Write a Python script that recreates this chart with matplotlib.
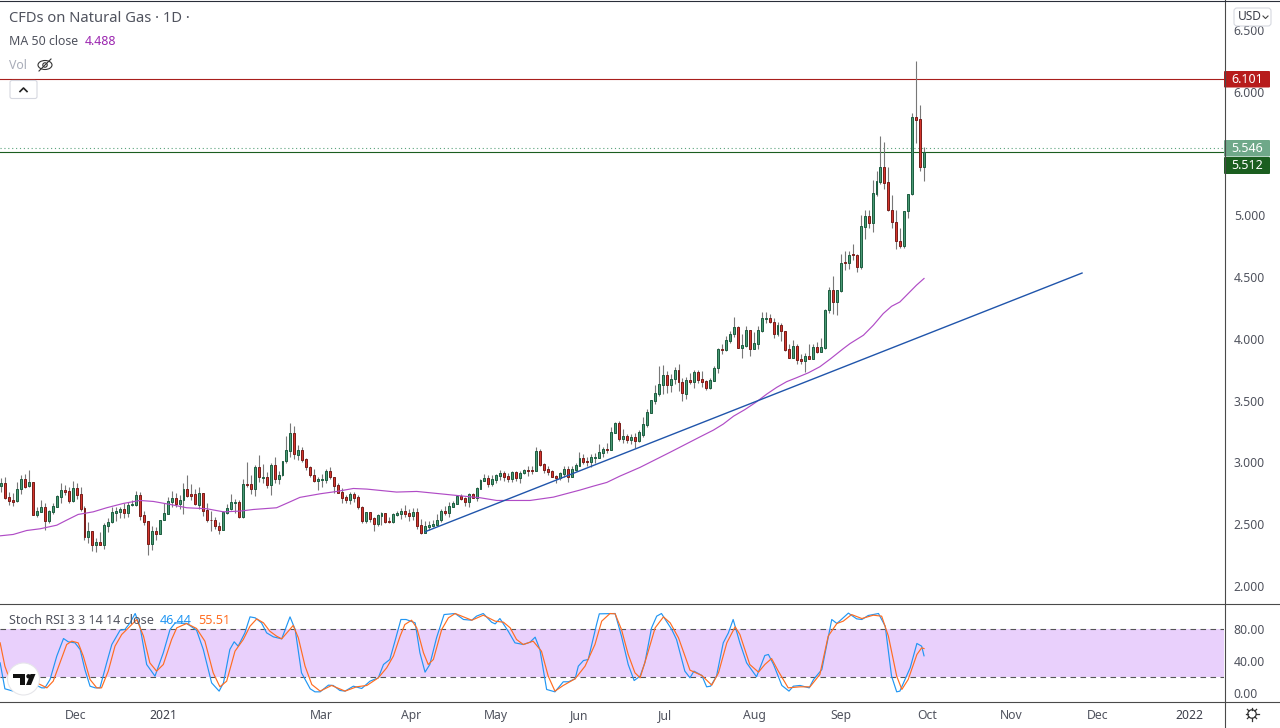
import numpy as np
import matplotlib
matplotlib.use("Agg")
import matplotlib.pyplot as plt
from matplotlib.patches import FancyBboxPatch, Circle, Polygon, Ellipse

plt.rcParams['font.family'] = ['Noto Sans', 'DejaVu Sans']

opens = [2.811,2.830,2.717,2.695,2.684,2.781,2.862,2.806,2.838,2.576,
 2.600,2.636,2.528,2.600,2.641,2.722,2.776,2.765,2.690,2.789,
 2.741,2.628,2.398,2.441,2.333,2.352,2.333,2.487,2.514,2.592,
 2.600,2.619,2.592,2.652,2.657,2.733,2.571,2.522,2.341,2.441,
 2.422,2.538,2.584,2.681,2.709,2.665,2.692,2.781,2.741,2.744,
 2.657,2.749,2.611,2.538,2.530,2.487,2.457,2.592,2.625,2.673,
 2.676,2.555,2.822,2.822,2.781,2.960,2.876,2.879,2.814,2.976,
 2.862,2.895,3.008,3.095,3.235,3.062,3.097,3.024,2.960,2.895,
 2.852,
 2.860,2.860,2.927,2.879,2.814,2.757,2.717,2.698,2.741,2.717,
 2.641,2.528,2.595,2.547,2.503,2.568,2.587,2.522,2.520,2.576,
 2.584,2.603,2.587,2.565,2.595,2.490,2.430,2.479,2.487,2.495,
 2.536,2.603,2.590,2.641,2.665,2.725,2.709,2.681,2.741,2.714,
 2.787,2.852,2.870,2.827,2.860,2.892,2.911,2.887,2.868,2.919,
 2.876,2.911,2.938,2.935,2.933,3.089,2.984,2.943,2.927,2.887,
 2.876,2.908,2.943,2.884,2.941,2.973,3.032,3.008,3.005,3.038,
 3.038,3.078,3.105,3.103,3.240,3.316,3.189,3.211,3.184,3.203,
 3.176,
 3.220,3.304,3.401,3.499,3.553,3.628,3.704,3.628,3.671,3.747,
 3.647,3.555,3.663,3.652,3.728,3.674,3.655,3.604,3.661,3.760,
 3.914,3.912,3.985,4.036,4.093,3.928,3.944,4.068,3.920,3.960,
 4.066,4.163,4.166,4.139,4.041,4.109,4.060,3.914,3.847,3.939,
 3.833,3.823,3.858,3.839,3.931,3.896,3.925,4.230,
 4.398,4.298,4.388,4.620,4.614,4.685,4.682,4.582,4.906,4.992,
 4.938,5.173,5.271,5.387,5.265,5.046,4.949,4.795,4.752,5.036,
 5.168,5.792,5.775,5.392]

closes = [2.833,2.714,2.690,2.681,2.781,2.862,2.803,2.838,2.576,2.603,
 2.636,2.528,2.603,2.644,2.725,2.773,2.762,2.690,2.789,2.738,
 2.625,2.398,2.441,2.333,2.355,2.333,2.490,2.514,2.595,2.603,
 2.619,2.592,2.652,2.663,2.733,2.568,2.519,2.341,2.441,2.422,
 2.538,2.587,2.684,2.709,2.665,2.692,2.781,2.730,2.730,2.660,
 2.749,2.609,2.538,2.530,2.487,2.455,2.595,2.628,2.676,2.679,
 2.555,2.822,2.817,2.781,2.960,2.879,2.881,2.814,2.976,2.862,
 2.895,3.008,3.097,3.235,3.065,3.097,3.022,2.960,2.895,2.852,
 2.865,
 2.862,2.927,2.879,2.811,2.754,2.714,2.698,2.741,2.714,2.641,
 2.528,2.595,2.544,2.503,2.571,2.587,2.520,2.517,2.582,2.590,
 2.603,2.584,2.568,2.598,2.487,2.430,2.484,2.490,2.498,2.538,
 2.603,2.592,2.644,2.671,2.727,2.706,2.681,2.741,2.714,2.790,
 2.854,2.870,2.827,2.862,2.895,2.911,2.884,2.868,2.919,2.873,
 2.911,2.935,2.933,2.930,3.089,2.981,2.941,2.925,2.881,2.876,
 2.911,2.943,2.884,2.943,2.976,3.032,3.005,3.003,3.041,3.043,
 3.081,3.105,3.100,3.243,3.319,3.192,3.211,3.184,3.205,3.176,
 3.243,
 3.307,3.404,3.501,3.558,3.631,3.704,3.628,3.671,3.747,3.647,
 3.558,3.663,3.652,3.728,3.666,3.652,3.604,3.663,3.760,3.914,
 3.909,3.987,4.036,4.093,3.928,3.947,4.068,3.920,3.963,4.068,
 4.166,4.168,4.139,4.041,4.109,4.060,3.912,3.847,3.939,3.831,
 3.823,3.858,3.839,3.931,3.896,3.931,4.230,4.398,
 4.298,4.393,4.617,4.614,4.682,4.679,4.582,4.909,4.992,4.938,
 5.176,5.273,5.387,5.262,5.041,4.946,4.793,4.752,5.038,5.171,
 5.792,5.773,5.392,5.512]

highs = [2.870,2.881,2.760,2.754,2.841,2.897,2.906,2.938,2.841,2.636,
 2.695,2.668,2.614,2.668,2.736,2.833,2.814,2.798,2.849,2.833,
 2.800,2.646,2.517,2.441,2.387,2.436,2.506,2.552,2.636,2.636,
 2.636,2.668,2.676,2.695,2.768,2.760,2.603,2.522,2.482,2.474,
 2.538,2.668,2.722,2.768,2.749,2.733,2.830,2.897,2.825,2.784,
 2.798,2.749,2.668,2.609,2.560,2.519,2.603,2.660,2.744,2.703,
 2.695,2.862,3.003,2.897,2.979,3.059,2.987,2.924,2.992,3.041,
 2.933,3.008,3.213,3.316,3.294,3.140,3.122,3.032,2.970,2.943,
 2.879,
 2.906,2.943,2.962,2.879,2.830,2.790,2.738,2.757,2.763,2.736,
 2.646,2.595,2.595,2.555,2.579,2.601,2.592,2.555,2.587,2.606,
 2.628,2.652,2.619,2.628,2.628,2.541,2.525,2.525,2.533,2.579,
 2.622,2.646,2.679,2.684,2.736,2.741,2.722,2.754,2.754,2.798,
 2.862,2.906,2.895,2.898,2.906,2.938,2.933,2.911,2.930,2.927,
 2.930,2.949,2.970,2.970,3.122,3.105,2.997,2.970,2.938,2.895,
 2.925,2.970,2.973,2.970,2.992,3.081,3.065,3.041,3.065,3.073,
 3.149,3.122,3.154,3.284,3.330,3.335,3.270,3.230,3.227,3.235,
 3.262,
 3.369,3.428,3.501,3.623,3.779,3.787,3.739,3.715,3.769,3.796,
 3.680,3.693,3.720,3.747,3.747,3.739,3.666,3.680,3.779,3.922,
 3.958,4.022,4.063,4.176,4.103,4.036,4.103,4.071,4.055,4.103,
 4.217,4.217,4.198,4.171,4.139,4.130,4.066,3.958,3.990,3.955,
 3.874,3.887,3.955,3.958,3.974,4.009,4.238,4.420,
 4.506,4.393,4.690,4.709,4.709,4.766,4.690,5.000,5.046,5.041,
 5.284,5.360,5.640,5.592,5.392,5.163,5.041,4.898,5.038,5.171,
 5.824,6.248,5.891,5.549]

lows = [2.762,2.703,2.657,2.649,2.681,2.746,2.795,2.803,2.573,2.560,
 2.600,2.457,2.511,2.582,2.636,2.673,2.736,2.673,2.681,2.700,
 2.609,2.371,2.349,2.285,2.276,2.330,2.301,2.439,2.511,2.525,
 2.552,2.552,2.560,2.646,2.646,2.533,2.493,2.250,2.290,2.371,
 2.420,2.533,2.582,2.636,2.636,2.619,2.582,2.717,2.695,2.657,
 2.619,2.568,2.519,2.447,2.460,2.420,2.455,2.582,2.614,2.587,
 2.547,2.552,2.803,2.744,2.730,2.843,2.830,2.795,2.738,2.835,
 2.825,2.892,2.997,3.046,3.024,3.019,3.005,2.941,2.879,2.841,
 2.776,
 2.798,2.830,2.862,2.754,2.754,2.673,2.668,2.663,2.681,2.627,
 2.509,2.511,2.517,2.447,2.484,2.490,2.506,2.506,2.511,2.565,
 2.541,2.555,2.528,2.533,2.460,2.420,2.430,2.452,2.474,2.484,
 2.520,2.574,2.560,2.636,2.663,2.695,2.646,2.641,2.714,2.690,
 2.781,2.849,2.803,2.811,2.830,2.857,2.849,2.843,2.843,2.849,
 2.835,2.906,2.892,2.906,2.933,2.973,2.916,2.897,2.879,2.830,
 2.857,2.879,2.843,2.879,2.933,2.970,2.984,2.970,2.960,2.992,
 3.032,3.046,3.078,3.100,3.235,3.176,3.154,3.154,3.149,3.114,
 3.168,
 3.207,3.288,3.396,3.472,3.539,3.553,3.563,3.571,3.634,3.577,
 3.499,3.512,3.634,3.604,3.639,3.612,3.585,3.593,3.658,3.725,
 3.877,3.904,3.968,4.015,3.922,3.844,3.936,3.860,3.914,3.920,
 4.057,4.125,4.130,4.009,4.022,3.985,3.904,3.844,3.842,3.796,
 3.796,3.734,3.833,3.836,3.887,3.896,3.920,4.206,
 4.204,4.190,4.382,4.555,4.563,4.641,4.541,4.563,4.806,4.898,
 4.865,5.154,5.252,5.211,5.033,4.898,4.725,4.733,4.736,4.979,
 5.163,5.586,5.360,5.279]

ma_idx = [-0.3,3.0,6.4,9.8,14.0,16.5,19.4,23.2,26.6,30.8,35.0,38.4,42.6,46.8,51.9,56.1,60.3,63.6,69.5,72.9,75.4,80.5,
 84.7,88.9,92.3,99.8,104.9,109.9,115.8,120.9,125.1,133.5,139.4,146.1,149.5,152.9,156.2,158.8,161.3,169.0,176.4,179.8,
 182.3,184.9,187.8,190.7,193.3,195.8,198.3,200.8,203.8,206.7,209.3,212.6,214.3,217.7,220.2,222.7,224.8,226.9,229,231.1,233.0]
ma_val = [2.406,2.417,2.449,2.463,2.492,2.533,2.579,2.600,2.633,2.668,2.692,2.684,2.660,2.633,2.625,2.600,2.606,2.619,2.633,2.681,2.717,2.746,
 2.765,2.789,2.784,2.760,2.765,2.749,2.730,2.714,2.692,2.692,2.719,2.776,2.808,2.838,2.889,2.925,2.960,3.084,3.206,3.261,
 3.310,3.374,3.428,3.490,3.553,3.607,3.653,3.685,3.725,3.774,3.836,3.920,3.961,4.029,4.110,4.204,4.263,4.298,4.366,4.434,4.488]

trend_idx = [107, 272.9]
trend_val = [2.439, 4.532]

k_idx = [-0.3,0.9,3.0,4.7,8.9,10.2,11,12.3,14,15.7,16.9,18.6,19.9,21.1,22.4,23.7,24.9,26.6,27.9,30,31.2,32.5,33.8,35,36.7,38.8,40.9,42.6,43.9,46.8,49.3,51,53.1,55,56.1,57.7,58.8,59.8,61.5,62.8,64.1,65.7,67,68.7,70.8,72.9,74.2,75.8,78,79.2,80.5,
 82.6,83.8,85.5,86.8,88.9,91,93.1,95.2,96.5,98.1,99.4,100.9,102.2,104.5,105.7,107,108.2,109.9,111.8,114.6,116.7,118.8,120,121.7,123.8,124.7,125.9,128,129.7,131.8,133.5,134.8,136,137.7,139.8,141.9,143.2,144.9,145.7,147,148.2,150.3,151,155,156.6,158.3,159.8,161.3,
 162.5,164.2,165.5,166.7,169.3,170.5,172.6,173.9,174.9,176.9,178.1,179.1,180.6,182.3,183.6,184.8,186.5,188.2,190.7,192.8,193.7,195,197.1,198.9,200,201.7,204,205.1,207.2,209.7,211,212.6,213.9,216,217.3,218.9,221.5,223.2,224.8,226.1,226.9,229.5,231.2,232.4,233]
k_val = [37.6,5,2.1,4.2,9.2,6.2,6.2,16.7,46,68.1,64,62.7,54.3,29.2,8.3,6.2,6.2,37.6,60.6,78.6,79.4,87.8,99.5,83.6,35.5,20.9,50.2,79.4,87.8,87,78.6,54.3,12.5,2.1,12.5,54.3,64,58.5,75.2,95.3,94.1,87.8,75.2,70.2,67.7,95.3,79.4,25.1,5,1.2,1.2,
 9.6,9.2,2.9,2.1,8.3,5.4,14.6,18.8,35.5,41.8,64.8,92,92,87.8,50.2,25.9,35.5,69,98.2,99.5,92,91.1,96.2,99.5,88.6,86.5,93.2,77.3,62.7,60.6,63.5,69.8,54.3,4.2,1.2,13.8,13.8,17.6,33.4,40.5,41.8,85.7,99.1,99.5,71.1,35.5,15.4,20.9,
 37.6,81.5,96.2,99.5,79.4,66.9,27.2,18.8,27.2,21.7,7.5,8.3,20.9,62.7,75.2,92,62.7,37.6,20.1,46.8,48.1,35.5,9.2,2.1,8.3,9.2,6.2,16.7,29.2,92,87,94.1,100,92.8,92,97,99.5,83.6,20.9,1.2,2.1,31.3,61.9,58.5,46.44]

d_idx = [-0.3,0.9,3,8.1,9.8,11.5,13.1,14.8,16.5,17.8,19.4,20.7,22.4,24.1,25.3,27,28.7,30.4,32.1,34.2,35.9,37.5,39.2,40.9,43,44.3,46.8,49.3,51.4,53.5,55.2,56.9,59,61.1,62.8,64.5,66.2,67.8,69.5,70.8,73.7,75,76.7,78.4,80.5,
 83.4,86.8,89.7,92.3,95.2,97.3,99,100.7,101.9,103.6,104.9,106.6,107.8,109.1,111.2,112.9,114.6,116.7,118.8,121.7,124.7,126.8,128.5,130.1,131.8,134.3,136.4,138.1,139.8,141.9,144.9,147.4,149.9,151.6,153.7,155,156.6,158.3,160,161.3,
 163,165.1,167.2,168.9,171,173.9,176.9,179.4,181.1,183.2,185.3,186.5,189,191.2,192.8,194.5,196.2,198.7,201.7,204.2,206.7,208.8,211,212.6,214.7,217.3,220.2,222.3,224,226.1,227.4,229,231.2,232.4,233]
d_val = [62.7,33.4,4.2,14.6,10.4,6.2,14.6,37.6,60.6,64.8,62.7,46,16.7,6.2,6.2,27.2,58.5,73.2,81.5,92,71.1,37.6,27.2,35.5,66.9,81.5,87,80.7,64.8,25.1,7.5,14.6,52.2,66.9,83.6,92.8,87.8,77.3,71.1,67.7,84.5,69,33.4,10.4,2.1,
 9.2,2.1,7.5,9.2,18.8,31.3,46,71.1,85.7,91.1,81.5,50.2,35.5,41.8,79.4,94.1,99.5,95.3,91.1,97.4,89.9,88.6,81.5,66.9,60.6,64.8,52.2,20.9,2.1,9.2,17.6,33.4,60.6,89.9,99.5,99.1,79.4,48.1,25.1,18.8,
 46,81.5,95.3,87.8,69,28.4,21.7,9.6,25.1,62.7,82.8,73.2,35.5,25.9,35.5,43,27.2,6.2,7.5,7.5,23,71.1,87,89.9,98.2,93.2,97.4,96.2,71.1,20.9,4.2,16.7,48.1,56.4,55.51]

price_ticks = [2.0,2.5,3.0,3.5,4.0,4.5,5.0,6.0,6.5]
stoch_ticks = [0,40,80]
time_ticks = [18.9,40.8,80.7,103.5,124.9,145.9,167.6,190.1,212.0,233.8,255.1,276.9,299.9]
time_labels = ['Dec','2021','Mar','Apr','May','Jun','Jul','Aug','Sep','Oct','Nov','Dec','2022']
level_red = 6.101
level_green = 5.512
level_dotted = 5.546

W, H = 1280, 728
GREY = '#50535e'
fig = plt.figure(figsize=(W/100, H/100), dpi=100, facecolor='white')

def rect(left, top, right, bottom):
    return [left/W, 1-bottom/H, (right-left)/W, (bottom-top)/H]

ax = fig.add_axes(rect(0, 0, 1224, 603))
ax2 = fig.add_axes(rect(0, 603, 1224, 701))
xlim = (-0.336, 308.75)
x = np.arange(len(closes))
o, h, l, c = map(np.array, (opens, highs, lows, closes))
up = c >= o

ax.vlines(x, l, h, color='#787878', lw=0.8, zorder=2)
ax.bar(x[up], (c-o)[up], bottom=o[up], width=0.5, color='#4a9a75', edgecolor='#1f5f42', linewidth=0.72, zorder=3)
ax.bar(x[~up], (o-c)[~up], bottom=c[~up], width=0.5, color='#d5352c', edgecolor='#7a1f1c', linewidth=0.72, zorder=3)
ax.plot(ma_idx, ma_val, color='#b04cc6', lw=0.85, zorder=4)
ax.plot(trend_idx, trend_val, color='#2055ab', lw=1.0, zorder=4)
ax.axhline(level_red, color='#a81f1c', lw=0.8, zorder=1)
ax.axhline(level_green, color='#1b5e20', lw=0.8, zorder=1)
ax.axhline(level_dotted, color='#5aa37c', lw=0.8, ls=(0, (1, 2.5)), zorder=1)
ax.set_xlim(*xlim)
ax.set_ylim(2-17/123.6, 2+586/123.6)
ax.yaxis.tick_right()
ax.set_yticks(price_ticks)
ax.set_yticklabels([f'{v:.3f}' for v in price_ticks])
ax.set_xticks([])
ax.tick_params(axis='y', length=0, pad=7, labelsize=8.8, labelcolor=GREY)

ax2.axhspan(20, 80, color='#e9d0fc', lw=0, zorder=0)
for lev in (20, 80):
    ax2.axhline(lev, color='#555555', lw=0.8, ls=(0, (5, 4)), zorder=1)
ax2.plot(k_idx, k_val, color='#2196f3', lw=0.85, zorder=3)
ax2.plot(d_idx, d_val, color='#ff6d21', lw=0.85, zorder=4)
ax2.set_xlim(*xlim)
ax2.set_ylim(-10.3, 112.7)
ax2.yaxis.tick_right()
ax2.set_yticks(stoch_ticks)
ax2.set_yticklabels([f'{v:.2f}' for v in stoch_ticks])
ax2.set_xticks(time_ticks)
ax2.set_xticklabels(time_labels)
ax2.tick_params(axis='y', length=0, pad=7, labelsize=8.8, labelcolor=GREY)
ax2.tick_params(axis='x', length=0, pad=6, labelsize=8.8, labelcolor=GREY)
for t in ax2.get_xticklabels():
    if t.get_text() in ('2021', '2022'):
        t.set_fontweight('bold')
        t.set_color('#3c3f4a')

for a in (ax, ax2):
    for s in a.spines.values():
        s.set_visible(False)

ov = fig.add_axes([0, 0, 1, 1], zorder=10)
ov.set_xlim(0, W)
ov.set_ylim(H, 0)
ov.axis('off')
ov.patch.set_alpha(0)

line = '#4a4a4a'
ov.plot([1224.5, 1224.5], [0, 728], color=line, lw=0.8)
ov.plot([0, W], [603.5, 603.5], color=line, lw=0.8)
ov.plot([0, W], [701.5, 701.5], color=line, lw=0.8)
ov.plot([0, W], [0.5, 0.5], color='#2a2e39', lw=0.8)

ov.text(9, 18, 'CFDs on Natural Gas · 1D ·', fontsize=10.6, color=GREY, va='center')
ov.text(9, 41.5, 'MA 50 close', fontsize=8.9, color=GREY, va='center')
ov.text(85, 41.5, f'{ma_val[-1]:.3f}', fontsize=8.9, color='#9c27b0', va='center')
ov.text(9, 65.5, 'Vol', fontsize=8.9, color='#a9adb9', va='center')
ov.add_patch(Ellipse((45, 65), 14, 9, fill=False, ec='#333333', lw=0.8))
ov.add_patch(Circle((45, 65), 2.2, fill=False, ec='#333333', lw=0.8))
ov.plot([39, 51], [71, 59], color='#333333', lw=0.8)

ov.add_patch(FancyBboxPatch((10, 80.5), 27, 18, boxstyle='round,pad=0,rounding_size=2', fc='white', ec='#d6d8e0', lw=0.8))
ov.plot([20, 23.5, 27], [91.5, 88, 91.5], color='#222222', lw=1.2)

ov.text(9, 620.5, 'Stoch RSI 3 3 14 14 close', fontsize=9.05, color=GREY, va='center')
ov.text(160, 620.5, f'{k_val[-1]:.2f}', fontsize=9.05, color='#2196f3', va='center')
ov.text(198, 620.5, f'{d_val[-1]:.2f}', fontsize=9.05, color='#ff6d21', va='center')

ov.add_patch(Circle((23.5, 679), 16, fc='white', ec='#e6e6ea', lw=0.8))
ov.add_patch(Polygon([(13, 674), (25, 674), (25, 685), (20, 685), (20, 678), (13, 678)], fc='#111111', ec='none'))
ov.add_patch(Circle((28.5, 676.3), 2.2, fc='#111111', ec='none'))
ov.add_patch(Polygon([(30.5, 674), (35.5, 674), (31, 685), (26, 685)], fc='#111111', ec='none'))

ov.add_patch(FancyBboxPatch((1234, 8), 37, 18, boxstyle='round,pad=0,rounding_size=3', fc='white', ec='#d6d8e0', lw=0.8))
ov.text(1238, 17, 'USD', fontsize=8.6, color='#3c3f4a', va='center')
ov.plot([1263, 1265.5, 1268], [16, 18.5, 16], color='#444444', lw=0.8)

def price_box(top, bottom, value, colour):
    ov.add_patch(FancyBboxPatch((1224, top), 46, bottom-top, boxstyle='round,pad=0,rounding_size=1', fc=colour, ec='none'))
    ov.text(1247, (top+bottom)/2, f'{value:.3f}', fontsize=9.0, color='white', va='center', ha='center', fontweight='bold')

price_box(71, 87.5, level_red, '#b71c1c')
price_box(140, 156.5, level_dotted, '#6fa889')
price_box(157, 174, level_green, '#1b5e20')

ov.add_patch(Circle((1252, 714), 4.2, fill=False, ec='#333333', lw=0.9))
for ang in np.arange(0, 360, 45):
    a = np.radians(ang)
    ov.plot([1252+4.2*np.cos(a), 1252+6.5*np.cos(a)], [714+4.2*np.sin(a), 714+6.5*np.sin(a)], color='#333333', lw=0.9)

fig.savefig('out.png', dpi=100)
